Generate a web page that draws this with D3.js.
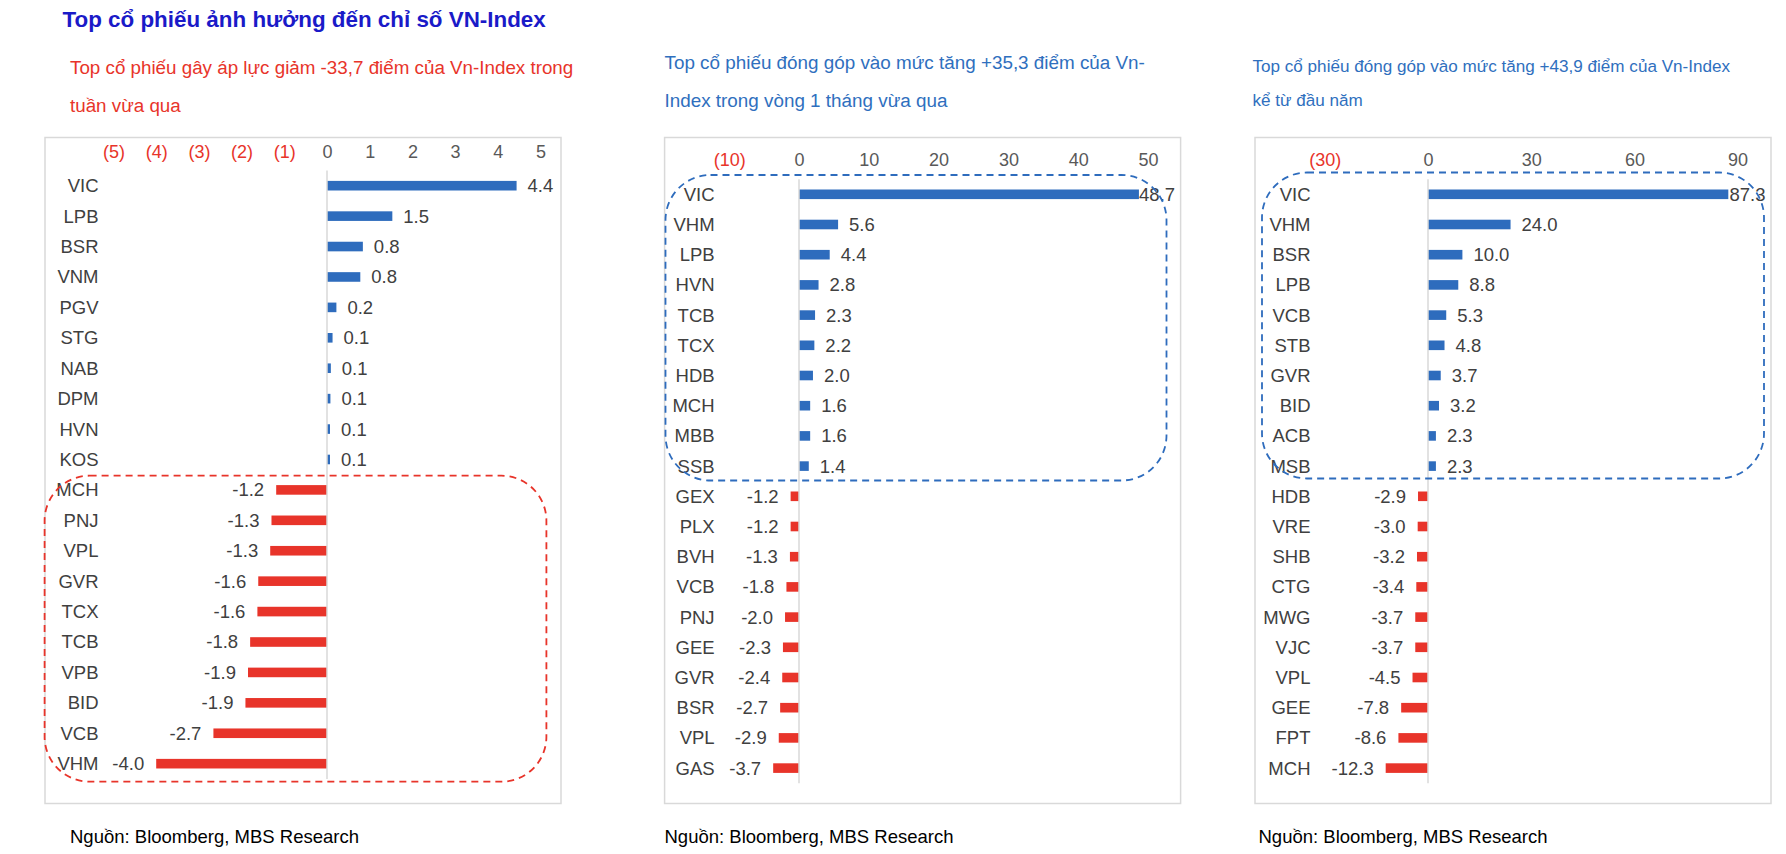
<!DOCTYPE html>
<html>
<head>
<meta charset="utf-8">
<script src="https://cdn.jsdelivr.net/npm/d3@7"></script>
<style>
  html, body { margin: 0; padding: 0; background: #ffffff; }
  svg { display: block; font-family: "Liberation Sans", Arial, sans-serif; }
</style>
</head>
<body>
<svg id="chart" width="1786" height="854"></svg>
<script>
// ---------------- DATA ----------------
const mainTitle = "Top cổ phiếu ảnh hưởng đến chỉ số VN-Index";
const sourceText = "Nguồn: Bloomberg, MBS Research";

// Panel 1: week
const weekTitle = ["Top cổ phiếu gây áp lực giảm -33,7 điểm của Vn-Index trong", "tuần vừa qua"];
const weekCategories = ["VIC","LPB","BSR","VNM","PGV","STG","NAB","DPM","HVN","KOS",
                        "MCH","PNJ","VPL","GVR","TCX","TCB","VPB","BID","VCB","VHM"];
const weekValues = [4.44, 1.53, 0.84, 0.78, 0.22, 0.13, 0.09, 0.08, 0.07, 0.07,
                    -1.19, -1.30, -1.33, -1.61, -1.63, -1.80, -1.85, -1.91, -2.66, -4.0];
const weekTicks = [-5,-4,-3,-2,-1,0,1,2,3,4,5];

// Panel 2: 1 month
const monthTitle = ["Top cổ phiếu đóng góp vào mức tăng +35,3 điểm của Vn-", "Index trong vòng 1 tháng vừa qua"];
const monthCategories = ["VIC","VHM","LPB","HVN","TCB","TCX","HDB","MCH","MBB","SSB",
                         "GEX","PLX","BVH","VCB","PNJ","GEE","GVR","BSR","VPL","GAS"];
const monthValues = [48.7, 5.6, 4.4, 2.8, 2.3, 2.2, 2.0, 1.6, 1.6, 1.4,
                     -1.2, -1.2, -1.3, -1.8, -2.0, -2.3, -2.4, -2.7, -2.9, -3.7];
const monthTicks = [-10,0,10,20,30,40,50];

// Panel 3: year to date
const ytdTitle = ["Top cổ phiếu đóng góp vào mức tăng +43,9 điểm của Vn-Index", "kể từ đầu năm"];
const ytdCategories = ["VIC","VHM","BSR","LPB","VCB","STB","GVR","BID","ACB","MSB",
                       "HDB","VRE","SHB","CTG","MWG","VJC","VPL","GEE","FPT","MCH"];
const ytdValues = [87.3, 24.0, 10.0, 8.8, 5.3, 4.8, 3.7, 3.2, 2.3, 2.3,
                   -2.9, -3.0, -3.2, -3.4, -3.7, -3.7, -4.5, -7.8, -8.6, -12.3];
const ytdTicks = [-30,0,30,60,90];

// ---------------- STYLE ----------------
const BLUE = "#2e6cbd";
const RED = "#e8342a";
const TITLE_BLUE = "#1a1ac8";
const SUB_BLUE = "#2f6fbe";
const GRID = "#d9d9d9";
const TEXT = "#404040";
const TICK = "#595959";

const svg = d3.select("#chart");

svg.append("text")
  .attr("x", 62.5).attr("y", 27)
  .attr("font-size", 22.4).attr("font-weight", "bold")
  .attr("fill", TITLE_BLUE)
  .text(mainTitle);

const panels = [
  { title: weekTitle, titleColor: RED, titleSize: 18.8, titleX: 70, titleY: [74, 111.5],
    cats: weekCategories, vals: weekValues, ticks: weekTicks,
    box: {x: 45, y: 137.5, w: 516, h: 666},
    domain: [-5, 5], range: [113.5, 540.5], tickY: 151.5,
    rowFirst: 185.7, step: 30.42, labelX: 98.5,
    dash: {x: 44.6, y: 475.7, w: 501.8, h: 306, r: 45, color: RED},
    srcX: 70 },
  { title: monthTitle, titleColor: SUB_BLUE, titleSize: 18.85, titleX: 664.5, titleY: [69, 106.5],
    cats: monthCategories, vals: monthValues, ticks: monthTicks,
    box: {x: 664.6, y: 137.5, w: 516, h: 666},
    domain: [-10, 50], range: [729.2, 1148.0], tickY: 159,
    rowFirst: 194.3, step: 30.2, labelX: 714.6,
    dash: {x: 665.5, y: 175, w: 501, h: 305.5, r: 45, color: BLUE},
    srcX: 664.5 },
  { title: ytdTitle, titleColor: SUB_BLUE, titleSize: 17.1, titleX: 1252.5, titleY: [71.5, 106],
    cats: ytdCategories, vals: ytdValues, ticks: ytdTicks,
    box: {x: 1255, y: 137.5, w: 516, h: 666},
    domain: [-30, 90], range: [1324.8, 1737.6], tickY: 159,
    rowFirst: 194.3, step: 30.2, labelX: 1310.5,
    dash: {x: 1262, y: 172.5, w: 502, h: 306, r: 45, color: BLUE},
    srcX: 1258.5 }
];

const fmt = v => v.toFixed(1);
const tickFmt = v => v < 0 ? "(" + Math.abs(v) + ")" : String(v);

panels.forEach(p => {
  const g = svg.append("g");

  // subtitle
  p.title.forEach((line, i) => {
    g.append("text")
      .attr("x", p.titleX).attr("y", p.titleY[i])
      .attr("font-size", p.titleSize).attr("fill", p.titleColor)
      .text(line);
  });

  // frame
  g.append("rect")
    .attr("x", p.box.x).attr("y", p.box.y)
    .attr("width", p.box.w).attr("height", p.box.h)
    .attr("fill", "none").attr("stroke", GRID).attr("stroke-width", 1.5);

  const x = d3.scaleLinear().domain(p.domain).range(p.range);
  const y = d3.scaleBand().domain(p.cats)
    .range([p.rowFirst - p.step / 2, p.rowFirst - p.step / 2 + p.step * p.cats.length])
    .paddingInner(0).paddingOuter(0);
  const barH = 9.6;

  // top axis (labels only)
  const axis = d3.axisTop(x).tickValues(p.ticks).tickFormat(tickFmt).tickSize(0).tickPadding(0);
  const ag = g.append("g").attr("transform", `translate(0,${p.tickY + 6.5})`).call(axis);
  ag.select(".domain").remove();
  ag.selectAll("text")
    .attr("font-size", 18)
    .attr("font-family", "'Liberation Sans', Arial, sans-serif")
    .attr("fill", d => d < 0 ? RED : TICK);

  // bars
  g.selectAll("rect.bar").data(p.vals).enter().append("rect")
    .attr("class", "bar")
    .attr("x", d => Math.min(x(0), x(d)))
    .attr("y", (d, i) => y(p.cats[i]) + y.bandwidth() / 2 - barH / 2)
    .attr("width", d => Math.abs(x(d) - x(0)))
    .attr("height", barH)
    .attr("fill", d => d < 0 ? RED : BLUE);

  // zero line
  g.append("line")
    .attr("x1", x(0)).attr("x2", x(0))
    .attr("y1", y.range()[0]).attr("y2", y.range()[1])
    .attr("stroke", GRID).attr("stroke-width", 1.5);

  // category labels
  g.selectAll("text.cat").data(p.cats).enter().append("text")
    .attr("class", "cat")
    .attr("x", p.labelX)
    .attr("y", d => y(d) + y.bandwidth() / 2)
    .attr("dy", "0.35em")
    .attr("text-anchor", "end")
    .attr("font-size", 18.5).attr("fill", TEXT)
    .text(d => d);

  // value labels
  const boxRight = p.box.x + p.box.w - 5.5;
  g.selectAll("text.val").data(p.vals).enter().append("text")
    .attr("class", "val")
    .attr("y", (d, i) => y(p.cats[i]) + y.bandwidth() / 2)
    .attr("dy", "0.35em")
    .attr("font-size", 18.5).attr("fill", TEXT)
    .attr("text-anchor", d => d < 0 ? "end" : "start")
    .text(d => fmt(d))
    .each(function(d) {
      const t = d3.select(this);
      if (d < 0) {
        t.attr("x", x(d) - 12);
      } else {
        let px = x(d) + 11;
        const len = this.getComputedTextLength();
        if (px + len > boxRight) px = boxRight - len;
        t.attr("x", px);
      }
    });

  // dashed highlight
  g.append("rect")
    .attr("x", p.dash.x).attr("y", p.dash.y)
    .attr("width", p.dash.w).attr("height", p.dash.h)
    .attr("rx", p.dash.r).attr("ry", p.dash.r)
    .attr("fill", "none").attr("stroke", p.dash.color)
    .attr("stroke-width", 1.8).attr("stroke-dasharray", "7,5");

  // source
  svg.append("text")
    .attr("x", p.srcX).attr("y", 843)
    .attr("font-size", 18.5).attr("fill", "#000000")
    .text(sourceText);
});
</script>
</body>
</html>
